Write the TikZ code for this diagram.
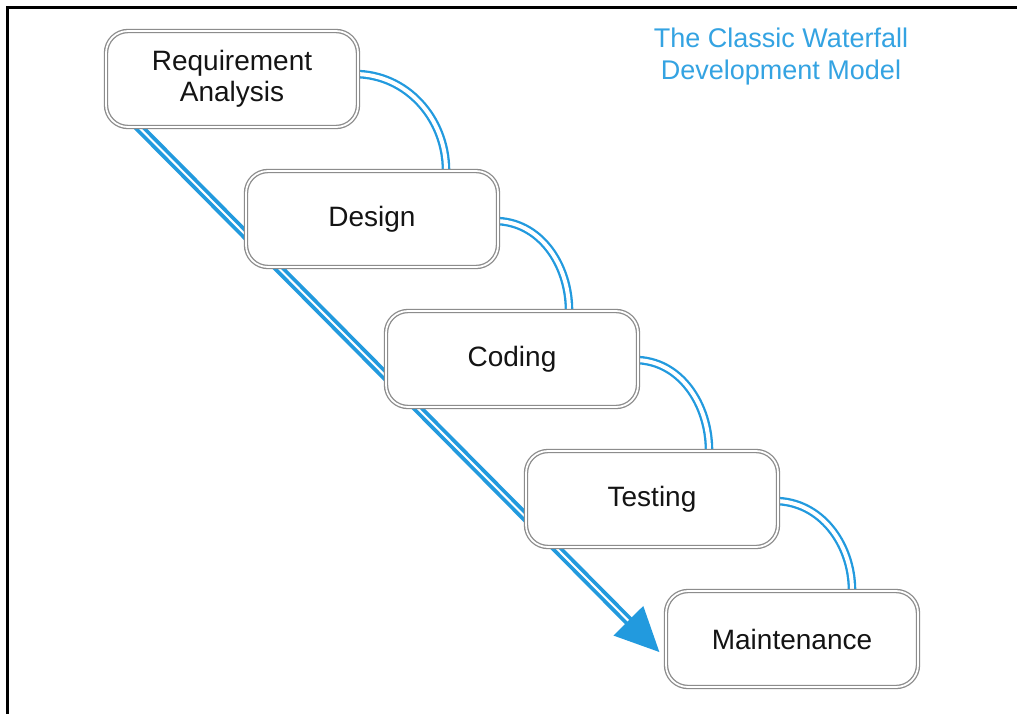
\documentclass[tikz,border=0pt]{standalone}
\usepackage{fontspec}
\setmainfont{Liberation Sans}
\usetikzlibrary{calc}
\definecolor{flowblue}{RGB}{34,154,222}
\definecolor{titleblue}{RGB}{52,163,226}
\definecolor{boxgray}{RGB}{140,140,140}
\definecolor{ink}{RGB}{20,20,20}
\pgfdeclarelayer{paper}
\pgfdeclarelayer{back}
\pgfsetlayers{paper,back,main}

\begin{document}
\begin{tikzpicture}[x=1pt,y=-1pt,
  phase/.style={draw=boxgray, line width=1.3pt, double=white,
    double distance=1.8pt, fill=white, rounded corners=22pt,
    minimum width=252pt, minimum height=96pt, align=center, text=ink,
    font=\fontsize{28}{31}\selectfont, inner sep=0pt},
  flow/.style={draw=flowblue, line width=2.3pt, double=white,
    double distance=4pt},
  cascade/.style={draw=flowblue, line width=3.8pt, double=white,
    double distance=2pt},
  frame/.style={draw=black, line width=3pt, line join=miter}]

\useasboundingbox (0,0) rectangle (1017,713);
\begin{pgfonlayer}{paper}
  \fill[white] (0,0) rectangle (1017,713);
\end{pgfonlayer}
\draw[frame] (7,720) -- (7,7) -- (1030,7);

% the five phases
\node[phase] (req) at (232,79)  {Requirement\\Analysis};
\node[phase] (des) at (372,219) {Design};
\node[phase] (cod) at (512,359) {Coding};
\node[phase] (tes) at (652,499) {Testing};
\node[phase] (mai) at (792,639) {Maintenance};

% title
\node[text=titleblue, align=center, font=\fontsize{27}{32}\selectfont]
  (title) at (781,57) {The Classic Waterfall\\Development Model};

\begin{pgfonlayer}{back}
  % links between consecutive phases
  \draw[flow] ([xshift=-4pt,yshift=5pt]req.east) to[out=0,in=90] ([xshift=74pt]des.north);
  \draw[flow] ([xshift=-4pt,yshift=-2pt]des.east) to[out=0,in=90] ([xshift=57pt]cod.north);
  \draw[flow] ([xshift=-4pt,yshift=-1pt]cod.east) to[out=0,in=90] ([xshift=57pt]tes.north);
  \draw[flow] ([xshift=-4pt,yshift=-2pt]tes.east) to[out=0,in=90] ([xshift=60pt]mai.north);

  % the long diagonal arrow
  \coordinate (start) at ([xshift=30pt,yshift=4pt]req.south west);
  \coordinate (tip) at ([xshift=-6pt,yshift=-13pt]mai.west);
  \coordinate (hb) at ($(tip)!44pt!(start)$);
  \draw[cascade] (start) -- ($(tip)!40pt!(start)$);
  \fill[flowblue] (tip) -- ($(hb)!21pt!90:(tip)$) -- ($(hb)!21pt!-90:(tip)$) -- cycle;
\end{pgfonlayer}
\end{tikzpicture}
\end{document}
